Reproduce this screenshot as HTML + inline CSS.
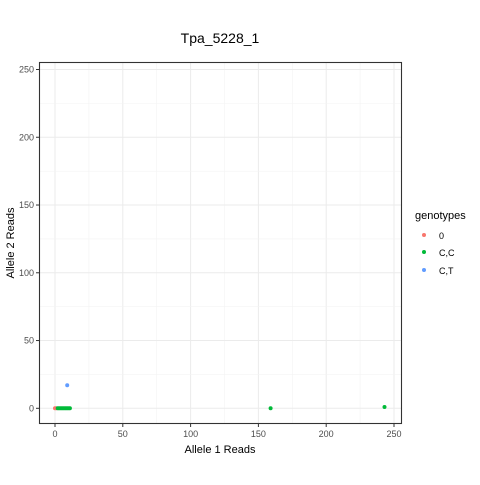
<!DOCTYPE html>
<html><head><meta charset="utf-8"><style>
body{margin:0;background:#fff;font-family:"Liberation Sans",sans-serif}
svg text{font-family:"Liberation Sans",sans-serif}
</style></head><body>
<svg width="480" height="480">
<rect width="480" height="480" fill="#fff"/>
<text x="220" y="43" font-size="14" text-anchor="middle">Tpa_5228_1</text>
<g id="grid"></g>
<g id="pts"></g>
<rect x="39.5" y="62.5" width="362" height="361" fill="none" stroke="#333" stroke-width="1.1"/>
<g id="axes"></g>
<text x="220" y="453" font-size="11" text-anchor="middle">Allele 1 Reads</text>
<text x="14" y="243" font-size="11" text-anchor="middle" transform="rotate(-90 14 243)">Allele 2 Reads</text>
<g>
<text x="415" y="219" font-size="11">genotypes</text>
<circle cx="424" cy="235" r="2" fill="#F8766D"/>
<text x="439" y="239" font-size="9">0</text>
<circle cx="424" cy="252" r="2" fill="#00BA38"/>
<text x="439" y="256" font-size="9">C,C</text>
<circle cx="424" cy="270" r="2" fill="#619CFF"/>
<text x="439" y="274" font-size="9">C,T</text>
</g>
</svg>
<script>
const xTicks=[0,50,100,150,200,250];
const yTicks=[0,50,100,150,200,250];
const ptX=[0,1,2,3,4,5,6,7,8,9,10,11,9,159,243];
const ptY=[0,0,0,0,0,0,0,0,0,0,0,0,17,0,1];
const ptG=["0","0","C,C","C,C","C,C","C,C","C,C","C,C","C,C","C,C","C,C","C,C","C,T","C,C","C,C"];
const colors={"0":"#F8766D","C,C":"#00BA38","C,T":"#619CFF"};
const NS="http://www.w3.org/2000/svg";
const sx=v=>55+v*(394-55)/250;
const sy=v=>408.3-v*(408.3-69.5)/250;
const grid=document.getElementById('grid'),axes=document.getElementById('axes'),pts=document.getElementById('pts');
function ln(p,x1,y1,x2,y2,c,w){const l=document.createElementNS(NS,'line');l.setAttribute('x1',x1);l.setAttribute('y1',y1);l.setAttribute('x2',x2);l.setAttribute('y2',y2);l.setAttribute('stroke',c);l.setAttribute('stroke-width',w);p.appendChild(l);return l;}
function tx(p,x,y,s,a){const t=document.createElementNS(NS,'text');t.setAttribute('x',x);t.setAttribute('y',y);t.setAttribute('font-size','9');t.setAttribute('fill','#4d4d4d');t.setAttribute('text-anchor',a);t.textContent=s;p.appendChild(t);return t;}
for(let i=0;i<xTicks.length;i++){const x=sx(xTicks[i]);
const g=ln(grid,x,62,x,424,'#ebebeb',1);


if(i<xTicks.length-1){const m=sx((xTicks[i]+xTicks[i+1])/2);const g2=ln(grid,m,62,m,424,'#f3f3f3',0.6);

}
ln(axes,x,424,x,427,'#333',1);
const t=tx(axes,x,437,xTicks[i],'middle');

}
for(let i=0;i<yTicks.length;i++){const y=sy(yTicks[i]);
const g=ln(grid,39,y,402,y,'#ebebeb',1);


if(i<yTicks.length-1){const m=sy((yTicks[i]+yTicks[i+1])/2);const g2=ln(grid,39,m,402,m,'#f3f3f3',0.6);

}
ln(axes,36,y,39,y,'#333',1);
const t=tx(axes,34,y+3,yTicks[i],'end');

}
for(let i=0;i<ptX.length;i++){const c=document.createElementNS(NS,'circle');
c.setAttribute('cx',sx(ptX[i]));c.setAttribute('cy',sy(ptY[i]));c.setAttribute('r',2);c.setAttribute('fill',colors[ptG[i]]);


pts.appendChild(c);}
</script>
</body></html>
